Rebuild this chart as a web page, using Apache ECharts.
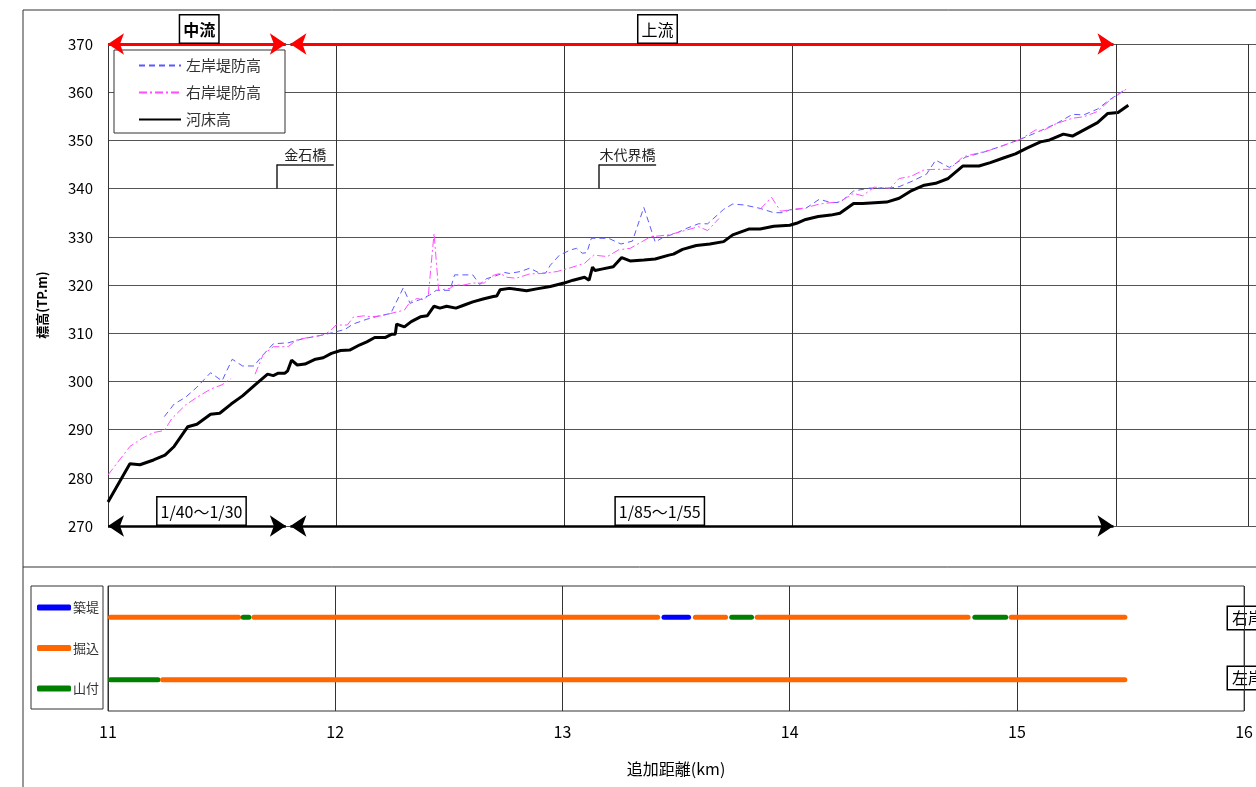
<!DOCTYPE html>
<html>
<head>
<meta charset="utf-8">
<script src="https://cdn.jsdelivr.net/npm/echarts@6/dist/echarts.min.js"></script>
<style>
html, body { margin: 0; padding: 0; background: #fff; }
#main { width: 1256px; height: 787px; }
</style>
</head>
<body>
<div id="main"></div>
<script>
// 河床高
var bedKm = [11.00, 11.096, 11.14, 11.20, 11.25, 11.29, 11.35, 11.39, 11.45, 11.49, 11.54, 11.59, 11.645, 11.70, 11.725, 11.747, 11.776, 11.788, 11.805, 11.83, 11.864, 11.91, 11.944, 11.98, 12.02, 12.06, 12.105, 12.135, 12.17, 12.215, 12.245, 12.26, 12.266, 12.30, 12.33, 12.37, 12.40, 12.43, 12.456, 12.485, 12.526, 12.56, 12.60, 12.645, 12.69, 12.705, 12.72, 12.76, 12.79, 12.836, 12.88, 12.94, 13.00, 13.04, 13.09, 13.11, 13.125, 13.136, 13.165, 13.216, 13.253, 13.29, 13.35, 13.40, 13.46, 13.48, 13.52, 13.58, 13.64, 13.70, 13.74, 13.81, 13.86, 13.92, 13.99, 14.02, 14.06, 14.115, 14.17, 14.21, 14.27, 14.31, 14.415, 14.47, 14.525, 14.58, 14.63, 14.685, 14.75, 14.82, 14.87, 14.93, 14.98, 15.03, 15.09, 15.13, 15.19, 15.23, 15.285, 15.34, 15.385, 15.43, 15.475];
var bedElev = [275.0, 282.9, 282.7, 283.7, 284.7, 286.5, 290.6, 291.1, 293.2, 293.4, 295.3, 297.0, 299.3, 301.5, 301.2, 301.7, 301.7, 302.2, 304.4, 303.4, 303.6, 304.6, 304.9, 305.8, 306.4, 306.5, 307.6, 308.2, 309.1, 309.1, 309.8, 309.8, 311.9, 311.3, 312.4, 313.4, 313.6, 315.6, 315.2, 315.6, 315.2, 315.8, 316.5, 317.1, 317.6, 317.7, 319.0, 319.3, 319.1, 318.8, 319.2, 319.7, 320.4, 321.0, 321.6, 321.0, 323.7, 323.0, 323.3, 323.8, 325.7, 325.0, 325.2, 325.4, 326.2, 326.4, 327.4, 328.2, 328.5, 329.0, 330.4, 331.6, 331.6, 332.2, 332.4, 332.8, 333.6, 334.2, 334.5, 334.9, 336.9, 336.9, 337.2, 338.0, 339.6, 340.7, 341.1, 342.1, 344.7, 344.7, 345.4, 346.4, 347.2, 348.4, 349.7, 350.1, 351.3, 350.9, 352.3, 353.7, 355.6, 355.8, 357.3];

// 左岸堤防高
var leftKm = [11.247, 11.29, 11.34, 11.39, 11.45, 11.50, 11.545, 11.59, 11.64, 11.68, 11.725, 11.79, 11.86, 11.94, 12.00, 12.04, 12.075, 12.135, 12.19, 12.24, 12.295, 12.325, 12.37, 12.41, 12.44, 12.50, 12.52, 12.60, 12.63, 12.66, 12.70, 12.74, 12.76, 12.81, 12.85, 12.895, 12.92, 12.94, 12.98, 13.03, 13.055, 13.08, 13.10, 13.12, 13.195, 13.25, 13.30, 13.35, 13.40, 13.435, 13.49, 13.54, 13.59, 13.63, 13.70, 13.74, 13.79, 13.86, 13.92, 13.96, 13.99, 14.06, 14.12, 14.17, 14.21, 14.27, 14.34, 14.43, 14.47, 14.53, 14.59, 14.63, 14.69, 14.76, 14.85, 14.93, 15.00, 15.08, 15.16, 15.23, 15.28, 15.34, 15.395, 15.46];
var leftElev = [292.7, 295.3, 296.7, 298.8, 301.8, 300.1, 304.6, 303.2, 303.2, 305.5, 307.8, 308.0, 308.9, 309.6, 310.3, 310.8, 311.9, 312.9, 313.6, 314.1, 319.4, 316.2, 317.0, 317.9, 318.9, 318.9, 322.1, 322.1, 320.1, 321.3, 321.9, 322.6, 322.4, 322.8, 323.5, 322.4, 322.5, 324.1, 326.2, 327.3, 327.6, 326.6, 326.7, 329.7, 329.7, 328.5, 329.1, 336.1, 328.9, 329.9, 330.7, 331.8, 332.7, 332.7, 335.7, 336.8, 336.6, 335.9, 335.0, 335.0, 335.6, 335.9, 337.8, 337.1, 337.1, 339.5, 340.1, 340.1, 340.4, 341.6, 343.0, 345.9, 344.4, 346.5, 347.7, 349.0, 350.2, 351.8, 353.5, 355.4, 355.3, 356.5, 358.5, 360.5];

// 右岸堤防高 (null = 欠測)
var rightKm = [11.00, 11.096, 11.15, 11.20, 11.247, 11.28, 11.34, 11.39, 11.45, 11.50, 11.54, 11.59, 11.645, 11.68, 11.725, 11.79, 11.83, 11.88, 11.94, 11.97, 12.00, 12.05, 12.075, 12.12, 12.155, 12.20, 12.24, 12.30, 12.325, 12.355, 12.385, 12.405, 12.43, 12.45, 12.50, 12.52, 12.56, 12.60, 12.65, 12.69, 12.72, 12.75, 12.79, 12.85, 12.91, 12.97, 13.03, 13.09, 13.13, 13.19, 13.24, 13.29, 13.38, 13.46, 13.53, 13.59, 13.63, 13.68, 13.77, 13.86, 13.91, 13.95, 13.99, 14.06, 14.12, 14.21, 14.27, 14.31, 14.36, 14.43, 14.47, 14.52, 14.58, 14.63, 14.69, 14.75, 14.87, 14.93, 15.00, 15.07, 15.10, 15.16, 15.23, 15.28, 15.34, 15.395, 15.475];
var rightElev = [280.6, 286.5, 288.2, 289.4, 289.8, 292.3, 295.1, 296.7, 298.4, 299.3, 300.6, null, 301.5, 305.5, 307.2, 307.2, 308.7, 309.1, 309.6, 310.3, 311.7, 311.7, 313.3, 313.6, 313.4, 313.6, 314.1, 314.8, 316.5, 317.2, 316.9, 317.9, 330.7, 318.9, 319.3, 320.0, 320.0, 320.4, 320.4, 322.0, 322.4, 321.6, 321.4, 322.3, 322.4, 322.8, 323.6, 324.5, 326.2, 325.9, 327.3, 327.6, 330.0, 330.4, 331.3, 332.1, 331.3, 333.8, null, 335.7, 338.2, 335.3, 335.6, 336.0, 336.8, 337.3, 339.0, 338.5, 340.3, 340.1, 342.1, 342.5, 343.9, 344.0, 344.0, 346.6, 348.0, 349.0, 350.2, 352.2, 352.0, 353.5, 354.6, 354.9, 356.0, 358.4, 360.9];

// 護岸形式 (下段)
var rightBankStart = [11.011, 11.595, 11.642, 13.447, 13.585, 13.745, 13.857, 14.815, 14.975];
var rightBankEnd = [11.575, 11.62, 13.419, 13.555, 13.718, 13.832, 14.785, 14.951, 15.475];
var rightBankType = ['掘込', '山付', '掘込', '築堤', '掘込', '山付', '掘込', '山付', '掘込'];
var leftBankStart = [11.011, 11.24];
var leftBankEnd = [11.22, 15.475];
var leftBankType = ['山付', '掘込'];

var bankTypes = ['築堤', '掘込', '山付'];
var bankColors = { '築堤': '#0000ff', '掘込': '#ff6600', '山付': '#008000' };

var font = 'Noto Sans CJK JP';

function zip(xs, ys) {
  return xs.map(function (x, i) { return [x, ys[i]]; });
}

function bankSeries(starts, ends, types, level) {
  return starts.map(function (s, i) {
    return {
      name: types[i],
      type: 'line',
      xAxisIndex: 1,
      yAxisIndex: 1,
      symbol: 'none',
      silent: true,
      color: bankColors[types[i]],
      lineStyle: { color: bankColors[types[i]], width: 5, cap: 'round' },
      data: [[s, level], [ends[i], level]]
    };
  });
}

var boxLabel = function (bold) {
  return {
    show: true,
    position: 'top',
    distance: 1,
    formatter: '{b}',
    color: '#000',
    fontFamily: font,
    fontSize: 16,
    fontWeight: bold ? 'bold' : 'normal',
    backgroundColor: '#fff',
    borderColor: '#000',
    borderWidth: 1.5,
    padding: [4, 3, 3, 3],
    lineHeight: 20
  };
};

var chart = echarts.init(document.getElementById('main'));

var series = [
  {
    name: '左岸堤防高',
    type: 'line',
    xAxisIndex: 0,
    yAxisIndex: 0,
    symbol: 'none',
    color: '#5a5aff',
    lineStyle: { color: '#5a5aff', width: 1, type: [6, 4] },
    data: zip(leftKm, leftElev),
    z: 3,
    markLine: {
      silent: true,
      symbol: 'none',
      label: { show: false },
      lineStyle: { color: '#333', width: 1, type: 'solid' },
      data: [{ xAxis: 15.42 }]
    }
  },
  {
    name: '右岸堤防高',
    type: 'line',
    xAxisIndex: 0,
    yAxisIndex: 0,
    symbol: 'none',
    color: '#ff4dff',
    lineStyle: { color: '#ff4dff', width: 1, type: [8, 3, 2, 3] },
    data: zip(rightKm, rightElev),
    z: 3,
    markLine: {
      silent: true,
      symbol: 'none',
      lineStyle: { color: '#222', width: 1.5, type: 'solid' },
      label: { show: false },
      data: [
        [{ coord: [11.74, 340] }, { coord: [11.74, 345] }],
        [{ coord: [11.74, 345], label: { show: true, position: 'middle', formatter: '金石橋', color: '#222', fontFamily: font, fontSize: 14, distance: 3 } }, { coord: [11.99, 345] }],
        [{ coord: [13.153, 340] }, { coord: [13.153, 345] }],
        [{ coord: [13.153, 345], label: { show: true, position: 'middle', formatter: '木代界橋', color: '#222', fontFamily: font, fontSize: 14, distance: 3 } }, { coord: [13.404, 345] }]
      ]
    }
  },
  {
    name: '河床高',
    type: 'line',
    xAxisIndex: 0,
    yAxisIndex: 0,
    symbol: 'none',
    color: '#000',
    lineStyle: { color: '#000', width: 3 },
    data: zip(bedKm, bedElev),
    z: 4,
    markLine: {
      silent: true,
      symbol: ['arrow', 'arrow'],
      symbolSize: 16,
      label: { show: false },
      data: [
        [{ coord: [11.0, 370], lineStyle: { color: '#ff0000', width: 3, type: 'solid' }, itemStyle: { color: '#ff0000' } }, { coord: [11.78, 370] }],
        [{ coord: [11.8, 370], lineStyle: { color: '#ff0000', width: 3, type: 'solid' }, itemStyle: { color: '#ff0000' } }, { coord: [15.41, 370] }],
        [{ coord: [11.0, 270], lineStyle: { color: '#000', width: 2.5, type: 'solid' }, itemStyle: { color: '#000' } }, { coord: [11.78, 270] }],
        [{ coord: [11.8, 270], lineStyle: { color: '#000', width: 2.5, type: 'solid' }, itemStyle: { color: '#000' } }, { coord: [15.41, 270] }]
      ]
    },
    markPoint: {
      silent: true,
      symbol: 'rect',
      symbolSize: 1,
      itemStyle: { color: 'rgba(0,0,0,0)' },
      data: [
        { name: '中流', coord: [11.40, 370], label: boxLabel(true) },
        { name: '上流', coord: [13.41, 370], label: boxLabel(false) },
        { name: '1/40～1/30', coord: [11.41, 270], label: boxLabel(false) },
        { name: '1/85～1/55', coord: [13.42, 270], label: boxLabel(false) }
      ]
    }
  }
];

series = series
  .concat(bankSeries(rightBankStart, rightBankEnd, rightBankType, 3))
  .concat(bankSeries(leftBankStart, leftBankEnd, leftBankType, 1));

chart.setOption({
  animation: false,
  backgroundColor: '#fff',
  textStyle: { fontFamily: font },
  grid: [
    { left: 108, top: 44, right: 0, height: 482 },
    { left: 108, top: 586, right: 9, height: 125, show: true, borderColor: '#333', borderWidth: 1 }
  ],
  legend: [
    {
      data: ['左岸堤防高', '右岸堤防高', '河床高'],
      orient: 'vertical',
      left: 114,
      top: 50,
      itemWidth: 42,
      itemHeight: 14,
      itemGap: 12,
      padding: [8, 24, 6, 24],
      backgroundColor: '#fff',
      borderColor: '#333',
      borderWidth: 1,
      itemStyle: { opacity: 0 },
      textStyle: { fontFamily: font, fontSize: 15, color: '#333' }
    },
    {
      data: bankTypes,
      orient: 'vertical',
      left: 31,
      top: 586,
      itemWidth: 34,
      itemHeight: 6,
      itemGap: 27.5,
      icon: 'roundRect',
      padding: [15, 4, 14, 6],
      borderColor: '#333',
      borderWidth: 1,
      textStyle: { fontFamily: font, fontSize: 13, color: '#333', padding: [0, 0, 0, -3] }
    }
  ],
  xAxis: [
    {
      gridIndex: 0,
      type: 'value',
      min: 11,
      max: 16.035,
      interval: 1,
      axisLabel: { show: false },
      axisTick: { show: false },
      axisLine: { show: false },
      splitLine: { show: true, lineStyle: { color: '#333', width: 1 } }
    },
    {
      gridIndex: 1,
      type: 'value',
      min: 11,
      max: 16,
      interval: 1,
      name: '追加距離(km)',
      nameLocation: 'middle',
      nameGap: 50,
      nameTextStyle: { fontFamily: font, fontSize: 16, color: '#000' },
      axisLabel: { fontFamily: font, fontSize: 16, color: '#000', margin: 13 },
      axisTick: { show: false },
      axisLine: { show: false },
      splitLine: { show: true, lineStyle: { color: '#333', width: 1 } }
    }
  ],
  yAxis: [
    {
      gridIndex: 0,
      type: 'value',
      min: 270,
      max: 370,
      interval: 10,
      axisLabel: { fontFamily: font, fontSize: 15, color: '#000', margin: 15 },
      axisTick: { show: false },
      axisLine: { show: true, lineStyle: { color: '#333', width: 1 } },
      splitLine: { show: true, lineStyle: { color: '#555', width: 1 } }
    },
    {
      gridIndex: 1,
      type: 'value',
      min: 0,
      max: 4,
      axisLabel: { show: false },
      axisTick: { show: false },
      axisLine: { show: false },
      splitLine: { show: false }
    }
  ],
  graphic: [
    { type: 'rect', silent: true, z: -1, shape: { x: 23, y: 10, width: 1300, height: 800 }, style: { fill: 'none', stroke: '#333', lineWidth: 1 } },
    { type: 'line', silent: true, shape: { x1: 23, y1: 567, x2: 1256, y2: 567 }, style: { stroke: '#333', lineWidth: 1 } },
    { type: 'text', silent: true, x: 42, y: 305, rotation: Math.PI / 2, style: { text: '標高(TP.m)', font: 'bold 13px "Noto Sans CJK JP"', fill: '#000', align: 'center', verticalAlign: 'middle' } },
    { type: 'text', silent: true, x: 1228, y: 607, style: { text: '右岸', font: '16px "Noto Sans CJK JP"', fill: '#000', backgroundColor: '#fff', borderColor: '#000', borderWidth: 1.5, padding: [3, 4, 3, 4] } },
    { type: 'text', silent: true, x: 1228, y: 667, style: { text: '左岸', font: '16px "Noto Sans CJK JP"', fill: '#000', backgroundColor: '#fff', borderColor: '#000', borderWidth: 1.5, padding: [3, 4, 3, 4] } }
  ],
  series: series
});
</script>
</body>
</html>
